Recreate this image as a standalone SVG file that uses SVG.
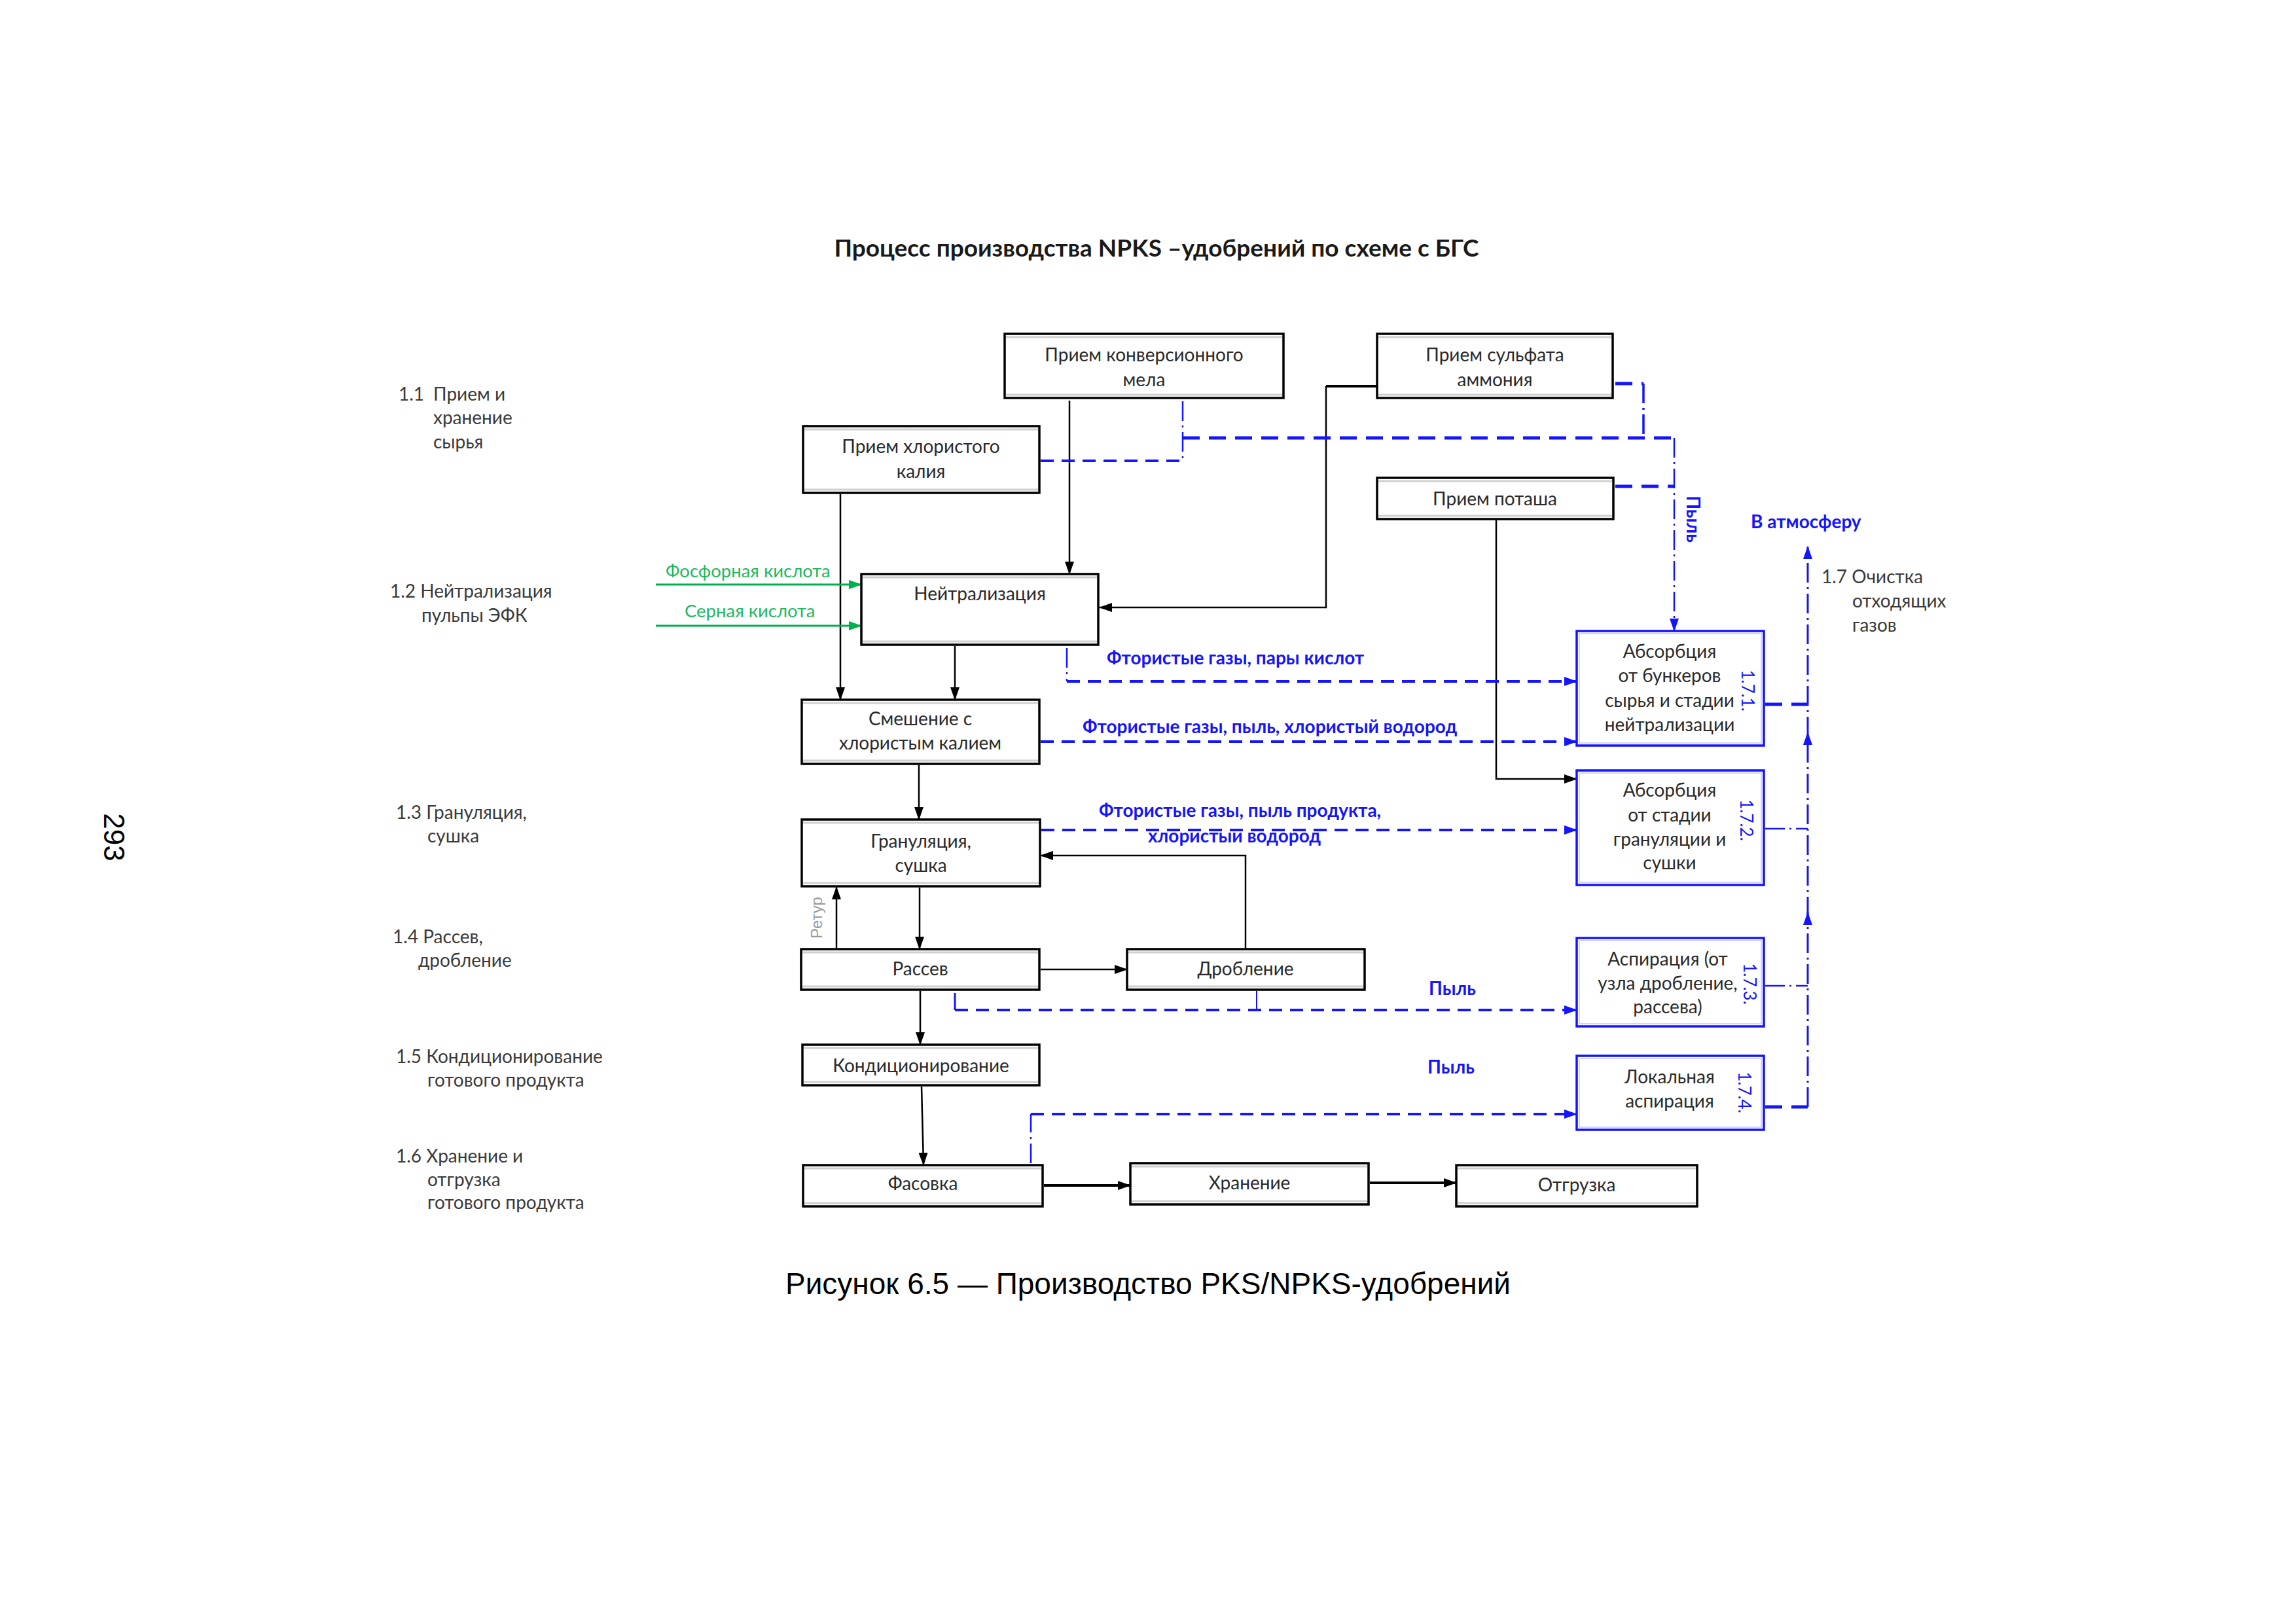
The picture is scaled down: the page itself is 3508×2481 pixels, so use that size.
<svg xmlns="http://www.w3.org/2000/svg" width="3508" height="2481" viewBox="0 0 3508 2481">
<style>
.bg{fill:#fff}
.box{fill:#fff;stroke:#000;stroke-width:3.5}
.bbox{fill:#fff;stroke:#1414ff;stroke-width:3.5}
.sh{stroke:#d0d0d0;stroke-width:3;fill:none}
.bsh{stroke:#d4d4ff;stroke-width:2;fill:none}
.t{font-family:Lato,"Open Sans",sans-serif;font-size:28px;fill:#2a2a2a;text-anchor:middle}
.lab{font-family:Lato,"Open Sans",sans-serif;font-size:28px;fill:#3a3a3a}
.bl{font-family:Lato,"Open Sans",sans-serif;font-size:28px;font-weight:bold;fill:#1414ff}
.gr{font-family:Lato,"Open Sans",sans-serif;font-size:27.5px;fill:#22b860}
.num{font-family:Lato,"Open Sans",sans-serif;font-size:26px;fill:#1414ff;text-anchor:middle}
.k{stroke:#000;stroke-width:2.5;fill:none}
.kt{stroke:#000;stroke-width:4;fill:none}
.g{stroke:#00b050;stroke-width:3;fill:none}
.d1{stroke:#1414ff;stroke-width:4;stroke-dasharray:20 12;fill:none}
.d2{stroke:#1414ff;stroke-width:5;stroke-dasharray:26 14;fill:none}
.dd{stroke:#1414ff;stroke-width:2.5;stroke-dasharray:30 7 3 7;fill:none}
.sb{stroke:#1414ff;stroke-width:3;fill:none}
</style>
<defs>
<marker id="ak" viewBox="0 0 20 14" refX="19" refY="7" markerWidth="20" markerHeight="14" markerUnits="userSpaceOnUse" orient="auto"><path d="M0,0 L20,7 L0,14 z" fill="#000"/></marker>
<marker id="au" viewBox="0 0 20 14" refX="19" refY="7" markerWidth="20" markerHeight="14" markerUnits="userSpaceOnUse" orient="auto"><path d="M0,0 L20,7 L0,14 z" fill="#1414ff"/></marker>
<marker id="ag" viewBox="0 0 20 14" refX="19" refY="7" markerWidth="20" markerHeight="14" markerUnits="userSpaceOnUse" orient="auto"><path d="M0,0 L20,7 L0,14 z" fill="#00b050"/></marker>
</defs>
<rect class="bg" x="0" y="0" width="3508" height="2481"/>

<text x="175" y="1279" transform="rotate(90 175 1279)" text-anchor="middle" dy="0.36em" style="font-family:'Liberation Sans',Arial,sans-serif;font-size:44px;fill:#000">293</text>

<text x="1767" y="392" text-anchor="middle" style="font-family:Lato,'Open Sans',sans-serif;font-size:37px;font-weight:bold;fill:#1a1a1a">Процесс производства NPKS –удобрений по схеме с БГС</text>

<g id="stage-labels">
<text class="lab"><tspan x="609" y="612">1.1</tspan><tspan x="662" y="612">Прием и</tspan><tspan x="662" y="648">хранение</tspan><tspan x="662" y="685">сырья</tspan></text>
<text class="lab"><tspan x="596" y="913">1.2 Нейтрализация</tspan><tspan x="644" y="950">пульпы  ЭФК</tspan></text>
<text class="lab"><tspan x="605" y="1251">1.3 Грануляция,</tspan><tspan x="653" y="1287">сушка</tspan></text>
<text class="lab"><tspan x="600" y="1441">1.4 Рассев,</tspan><tspan x="639" y="1477">дробление</tspan></text>
<text class="lab"><tspan x="605" y="1624">1.5 Кондиционирование</tspan><tspan x="653" y="1660">готового продукта</tspan></text>
<text class="lab"><tspan x="605" y="1776">1.6 Хранение  и</tspan><tspan x="653" y="1812">отгрузка</tspan><tspan x="653" y="1847">готового продукта</tspan></text>
<text class="lab"><tspan x="2783" y="891">1.7 Очистка</tspan><tspan x="2830" y="928">отходящих</tspan><tspan x="2830" y="965">газов</tspan></text>
</g>

<g id="connectors">
<path class="k" d="M1634,612 V877" marker-end="url(#ak)"/>
<path class="kt" d="M2104,590 H2026"/>
<path class="k" d="M2026,590 V928 H1680" marker-end="url(#ak)"/>
<path class="k" d="M1284,755 V1069" marker-end="url(#ak)"/>
<path class="k" d="M1459,987 V1069" marker-end="url(#ak)"/>
<path class="k" d="M1404,1169 V1252" marker-end="url(#ak)"/>
<path class="k" d="M1405,1356 V1450" marker-end="url(#ak)"/>
<path class="k" d="M1278,1450 V1355" marker-end="url(#ak)"/>
<path class="k" d="M1903,1450 V1307 H1590" marker-end="url(#ak)"/>
<path class="k" d="M1590,1481 H1722" marker-end="url(#ak)"/>
<path class="k" d="M1406,1514 V1596" marker-end="url(#ak)"/>
<path class="k" d="M1408,1660 L1411,1780" marker-end="url(#ak)"/>
<path class="kt" d="M1595,1811 H1727" marker-end="url(#ak)"/>
<path class="kt" d="M2093,1807 H2225" marker-end="url(#ak)"/>
<path class="k" d="M2286,795 V1190 H2409" marker-end="url(#ak)"/>
<path class="g" d="M1002,893 H1316" marker-end="url(#ag)"/>
<path class="g" d="M1002,956 H1316" marker-end="url(#ag)"/>
<path class="d1" d="M1590,704 H1807"/>
<path class="dd" d="M1807,613 V704"/>
<path class="d2" d="M1807,669 H2558"/>
<path class="d2" d="M2468,586 H2511"/>
<path class="dd" style="stroke-width:3.5" d="M2511,586 V669"/>
<path class="d2" d="M2468,743 H2558"/>
<path class="dd" d="M2558,669 V964" marker-end="url(#au)"/>
<path class="dd" d="M1630,990 V1041"/>
<path class="d1" d="M1630,1041 H2409" marker-end="url(#au)"/>
<path class="d1" d="M1590,1133 H2409" marker-end="url(#au)"/>
<path class="d1" d="M1591,1268 H2409" marker-end="url(#au)"/>
<path class="sb" d="M1459,1517 V1543"/>
<path class="sb" style="stroke-width:2" d="M1920,1514 V1541"/>
<path class="d1" d="M1459,1543 H2409" marker-end="url(#au)"/>
<path class="dd" d="M1575,1777 V1702"/>
<path class="d1" d="M1575,1702 H2409" marker-end="url(#au)"/>
<path class="d2" d="M2697,1076 H2762"/>
<path class="dd" d="M2697,1266 H2762"/>
<path class="dd" d="M2697,1506 H2762"/>
<path class="d2" d="M2697,1691 H2762"/>
<path class="dd" style="stroke-width:3" d="M2762,1691 V1394" marker-end="url(#au)"/>
<path class="dd" style="stroke-width:3" d="M2762,1400 V1119" marker-end="url(#au)"/>
<path class="dd" style="stroke-width:3" d="M2762,1125 V835" marker-end="url(#au)"/>
</g>

<g id="flow-labels">
<text class="gr" x="1017" y="882">Фосфорная кислота</text>
<text class="gr" x="1046" y="943">Серная кислота</text>
<text class="bl" x="1691" y="1015">Фтористые газы, пары кислот</text>
<text class="bl" x="1654" y="1120">Фтористые газы, пыль, хлористый водород</text>
<text class="bl" x="1679" y="1248">Фтористые газы, пыль продукта,</text>
<text class="bl" x="1754" y="1287">хлористый водород</text>
<text class="bl" x="2183" y="1520">Пыль</text>
<text class="bl" x="2181" y="1640">Пыль</text>
<text class="bl" x="2587" y="793" transform="rotate(90 2587 793)" text-anchor="middle" dy="0.35em">Пыль</text>
<text class="bl" x="2675" y="807">В атмосферу</text>
<text x="1248" y="1402" transform="rotate(-90 1248 1402)" text-anchor="middle" dy="0.35em" style="font-family:'Liberation Sans',Arial,sans-serif;font-size:24px;fill:#9a9a9a">Ретур</text>
</g>

<g id="n-kmel"><rect class="box" x="1535" y="510" width="426" height="98"/><path class="sh" d="M1537,515 H1959 M1537,603 H1959"/><text class="t"><tspan x="1748" y="552">Прием конверсионного</tspan><tspan x="1748" y="590">мела</tspan></text></g>
<g id="n-sulf"><rect class="box" x="2104" y="510" width="360" height="98"/><path class="sh" d="M2106,515 H2462 M2106,603 H2462"/><text class="t"><tspan x="2284" y="552">Прием  сульфата</tspan><tspan x="2284" y="590">аммония</tspan></text></g>
<g id="n-kcl"><rect class="box" x="1227" y="651" width="361" height="102"/><path class="sh" d="M1229,656 H1586 M1229,748 H1586"/><text class="t"><tspan x="1407" y="692">Прием хлористого</tspan><tspan x="1407" y="730">калия</tspan></text></g>
<g id="n-potash"><rect class="box" x="2104" y="730" width="361" height="63"/><path class="sh" d="M2106,735 H2463 M2106,788 H2463"/><text class="t" x="2284" y="772">Прием поташа</text></g>
<g id="n-neutr"><rect class="box" x="1316" y="877" width="362" height="108"/><path class="sh" d="M1318,882 H1676 M1318,980 H1676"/><text class="t" x="1497" y="917">Нейтрализация</text></g>
<g id="n-mix"><rect class="box" x="1225" y="1069" width="363" height="98"/><path class="sh" d="M1227,1074 H1586 M1227,1162 H1586"/><text class="t"><tspan x="1406" y="1108">Смешение с</tspan><tspan x="1406" y="1145">хлористым калием</tspan></text></g>
<g id="n-gran"><rect class="box" x="1225" y="1252" width="364" height="102"/><path class="sh" d="M1227,1257 H1587 M1227,1349 H1587"/><text class="t"><tspan x="1407" y="1295">Грануляция,</tspan><tspan x="1407" y="1332">сушка</tspan></text></g>
<g id="n-rassev"><rect class="box" x="1224" y="1450" width="364" height="62"/><path class="sh" d="M1226,1455 H1586 M1226,1507 H1586"/><text class="t" x="1406" y="1490">Рассев</text></g>
<g id="n-drob"><rect class="box" x="1722" y="1450" width="363" height="62"/><path class="sh" d="M1724,1455 H2083 M1724,1507 H2083"/><text class="t" x="1903" y="1490">Дробление</text></g>
<g id="n-kond"><rect class="box" x="1226" y="1596" width="362" height="62"/><path class="sh" d="M1228,1601 H1586 M1228,1653 H1586"/><text class="t" x="1407" y="1638">Кондиционирование</text></g>
<g id="n-fas"><rect class="box" x="1227" y="1780" width="366" height="63"/><path class="sh" d="M1229,1785 H1591 M1229,1838 H1591"/><text class="t" x="1410" y="1818">Фасовка</text></g>
<g id="n-hran"><rect class="box" x="1727" y="1777" width="364" height="63"/><path class="sh" d="M1729,1782 H2089 M1729,1835 H2089"/><text class="t" x="1909" y="1817">Хранение</text></g>
<g id="n-otgr"><rect class="box" x="2225" y="1780" width="368" height="63"/><path class="sh" d="M2227,1785 H2591 M2227,1838 H2591"/><text class="t" x="2409" y="1820">Отгрузка</text></g>

<g id="n-abs1"><rect class="bbox" x="2409" y="964" width="286" height="175"/><rect class="bsh" x="2413" y="968" width="278" height="167"/><text class="t"><tspan x="2551" y="1005">Абсорбция</tspan><tspan x="2551" y="1042">от бункеров</tspan><tspan x="2551" y="1080">сырья и  стадии</tspan><tspan x="2551" y="1117">нейтрализации</tspan></text><text class="num" x="2670" y="1055" transform="rotate(90 2670 1055)" dy="0.35em">1.7.1.</text></g>
<g id="n-abs2"><rect class="bbox" x="2409" y="1177" width="286" height="175"/><rect class="bsh" x="2413" y="1181" width="278" height="167"/><text class="t"><tspan x="2551" y="1217">Абсорбция</tspan><tspan x="2551" y="1255">от стадии</tspan><tspan x="2551" y="1292">грануляции и</tspan><tspan x="2551" y="1328">сушки</tspan></text><text class="num" x="2668" y="1253" transform="rotate(90 2668 1253)" dy="0.35em">1.7.2.</text></g>
<g id="n-asp"><rect class="bbox" x="2409" y="1433" width="286" height="135"/><rect class="bsh" x="2413" y="1437" width="278" height="127"/><text class="t"><tspan x="2548" y="1475">Аспирация (от</tspan><tspan x="2548" y="1512">узла дробление,</tspan><tspan x="2548" y="1548">рассева)</tspan></text><text class="num" x="2673" y="1503" transform="rotate(90 2673 1503)" dy="0.35em">1.7.3.</text></g>
<g id="n-lok"><rect class="bbox" x="2409" y="1613" width="286" height="113"/><rect class="bsh" x="2413" y="1617" width="278" height="105"/><text class="t"><tspan x="2551" y="1655">Локальная</tspan><tspan x="2551" y="1692">аспирация</tspan></text><text class="num" x="2665" y="1669" transform="rotate(90 2665 1669)" dy="0.35em">1.7.4.</text></g>

<text x="1754" y="1977" text-anchor="middle" style="font-family:'Liberation Sans',Arial,sans-serif;font-size:46px;fill:#000">Рисунок 6.5 — Производство PKS/NPKS-удобрений</text>
</svg>
